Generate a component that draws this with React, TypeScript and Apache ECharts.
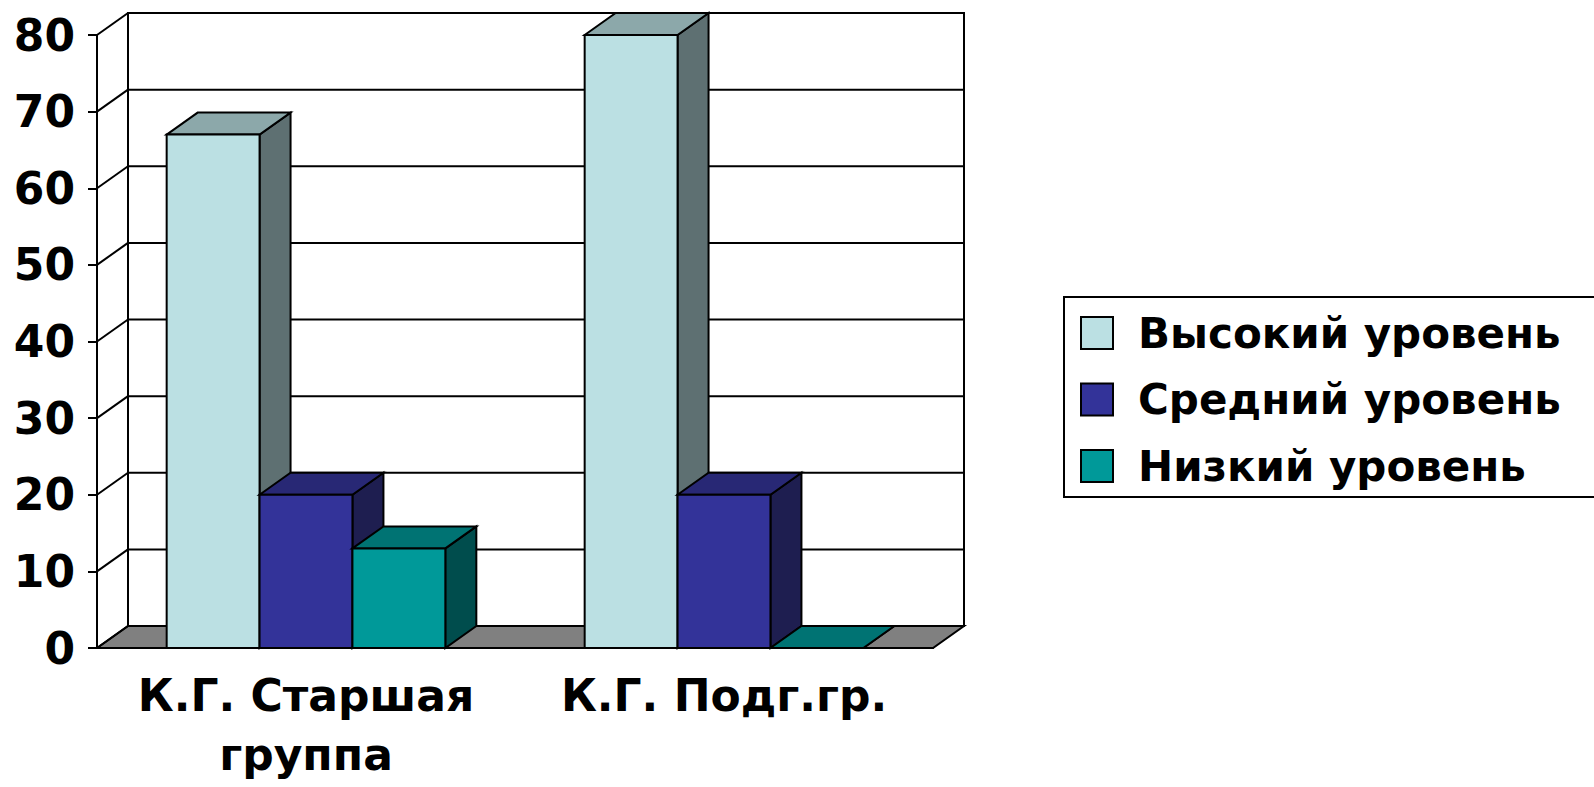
import React, { useEffect, useRef } from 'react';
import * as echarts from 'echarts';

// ---- data ----
const categories = ['К.Г. Старшая\nгруппа', 'К.Г. Подг.гр.'];
const seriesNames = ['Высокий уровень', 'Средний уровень', 'Низкий уровень'];
const highLevel = [67, 80];
const mediumLevel = [20, 20];
const lowLevel = [13, 0];
const yMin = 0;
const yMax = 80;
const yStep = 10;

// ---- style ----
const FONT = 'DejaVu Sans';
const DX = 31;
const DY = -22;
const palettes = [
  { front: '#BBE0E3', top: '#8CA8AA', side: '#5E7072' },
  { front: '#333399', top: '#282875', side: '#1E1E50' },
  { front: '#009999', top: '#007373', side: '#004D4D' },
];

export default function App() {
  const ref = useRef<HTMLDivElement>(null);
  useEffect(() => {
    const chart = echarts.init(ref.current!, null, { renderer: 'svg' });
    const values = [highLevel, mediumLevel, lowLevel];
    const gridTicks: number[] = [];
    for (let v = yMin; v <= yMax; v += yStep) gridTicks.push(v);
    const black = '#000';

    const wallSeries: any = {
      type: 'custom',
      name: 'walls',
      z: 1,
      silent: true,
      data: [[0, 0]],
      encode: { x: 0, y: 1 },
      renderItem: (params: any, api: any) => {
        const cs = params.coordSys;
        const x0 = cs.x;
        const x1 = cs.x + cs.width;
        const yb = api.coord([0, yMin])[1];
        const yt = api.coord([0, yMax])[1];
        const children: any[] = [];
        children.push({
          type: 'rect',
          shape: { x: x0 + DX, y: yt + DY, width: x1 - x0, height: yb - yt },
          style: { fill: '#fff', stroke: black, lineWidth: 2 },
        });
        children.push({
          type: 'polygon',
          shape: { points: [[x0, yb], [x0 + DX, yb + DY], [x1 + DX, yb + DY], [x1, yb]] },
          style: { fill: '#808080', stroke: black, lineWidth: 2 },
        });
        for (const v of gridTicks) {
          const y = api.coord([0, v])[1];
          children.push({
            type: 'line',
            shape: { x1: x0 + DX, y1: y + DY, x2: x1 + DX, y2: y + DY },
            style: { stroke: black, lineWidth: 2 },
          });
          children.push({
            type: 'line',
            shape: { x1: x0, y1: y, x2: x0 + DX, y2: y + DY },
            style: { stroke: black, lineWidth: 2 },
          });
        }
        return { type: 'group', children };
      },
    };

    const barSeries = values.map((vals, s) => ({
      type: 'custom',
      name: seriesNames[s],
      z: 2 + s,
      itemStyle: { color: palettes[s].front },
      data: vals.map((v, i) => [i, v]),
      encode: { x: 0, y: 1 },
      renderItem: (params: any, api: any) => {
        const i = api.value(0);
        const v = api.value(1);
        const base = api.coord([i, yMin]);
        const top = api.coord([i, v]);
        const band = api.size([1, 0])[0];
        const bw = band / 4.5;
        const xl = base[0] - 1.5 * bw + s * bw;
        const xr = xl + bw;
        const yt = top[1];
        const yb = base[1];
        const st = { stroke: black, lineWidth: 2, lineJoin: 'miter' };
        return {
          type: 'group',
          children: [
            {
              type: 'polygon',
              shape: { points: [[xr, yt], [xr + DX, yt + DY], [xr + DX, yb + DY], [xr, yb]] },
              style: { ...st, fill: palettes[s].side },
            },
            {
              type: 'polygon',
              shape: { points: [[xl, yt], [xl + DX, yt + DY], [xr + DX, yt + DY], [xr, yt]] },
              style: { ...st, fill: palettes[s].top },
            },
            {
              type: 'polygon',
              shape: { points: [[xl, yt], [xr, yt], [xr, yb], [xl, yb]] },
              style: { ...st, fill: palettes[s].front },
            },
          ],
        };
      },
    }));

    chart.setOption({
      animation: false,
      backgroundColor: '#fff',
      grid: { left: 97, top: 35, right: 661, bottom: 139 },
      graphic: [
        {
          type: 'rect',
          silent: true,
          shape: { x: 1064, y: 297, width: 700, height: 200 },
          style: { fill: 'none', stroke: black, lineWidth: 2 },
        },
      ],
      xAxis: {
        type: 'category',
        data: categories,
        axisLine: { lineStyle: { color: black, width: 2 } },
        axisTick: { length: 12, lineStyle: { color: black, width: 2 } },
        axisLabel: {
          interval: 0,
          color: black,
          fontSize: 44,
          fontWeight: 'bold',
          fontFamily: FONT,
          lineHeight: 59,
          margin: 18,
        },
        splitLine: { show: false },
      },
      yAxis: {
        type: 'value',
        min: yMin,
        max: yMax,
        interval: yStep,
        axisLine: { show: true, lineStyle: { color: black, width: 2 } },
        axisTick: { show: true, length: 9, lineStyle: { color: black, width: 2 } },
        axisLabel: {
          color: black,
          fontSize: 44,
          fontWeight: 'bold',
          fontFamily: FONT,
          margin: 22,
        },
        splitLine: { show: false },
      },
      legend: {
        data: seriesNames,
        orient: 'vertical',
        left: 1064,
        top: 297,
        icon: 'rect',
        selectedMode: false,
        itemWidth: 32,
        itemHeight: 32,
        itemGap: 24.5,
        padding: [15, 10, 10, 16],
        borderWidth: 0,
        itemStyle: { borderColor: black, borderWidth: 2 },
        textStyle: {
          color: black,
          fontSize: 42,
          fontWeight: 'bold',
          fontFamily: FONT,
          padding: [0, 0, 0, 20],
        },
      },
      series: [wallSeries, ...barSeries],
    });
    return () => chart.dispose();
  }, []);
  return (
    <div
      ref={ref}
      style={{ position: 'fixed', left: 0, top: 0, width: 1594, height: 787 }}
    />
  );
}
